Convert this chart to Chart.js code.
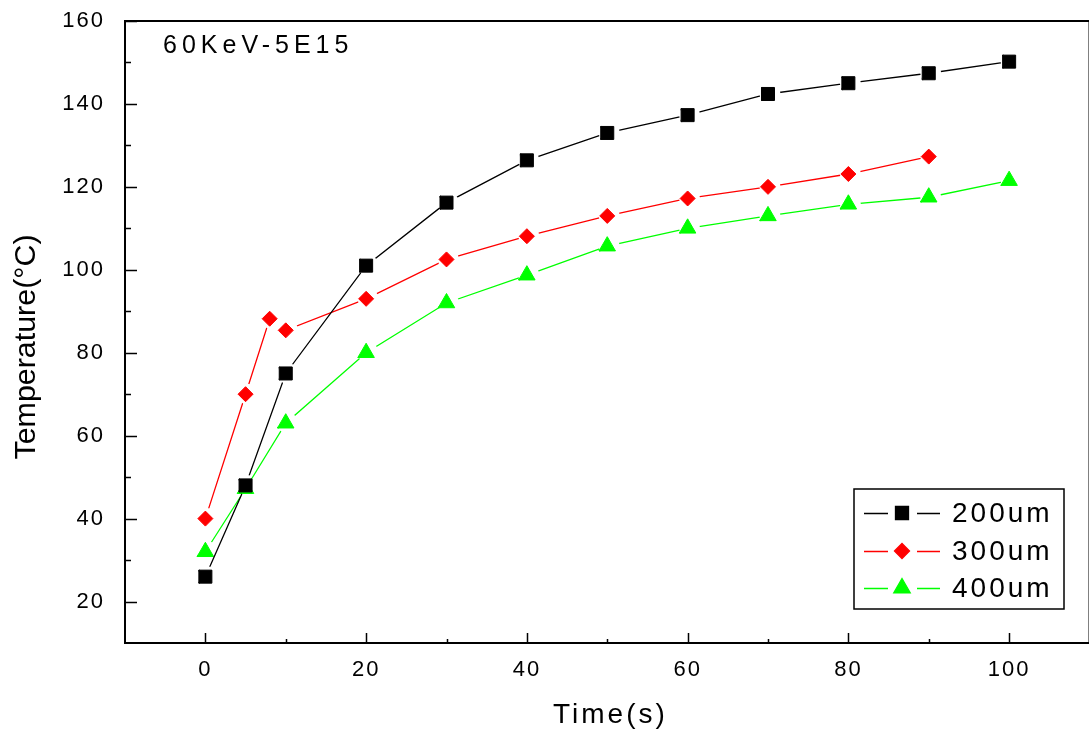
<!DOCTYPE html>
<html><head><meta charset="utf-8">
<script src="https://cdn.jsdelivr.net/npm/chart.js@4.4.1/dist/chart.umd.min.js"></script>
<style>html,body{margin:0;padding:0;background:#fff;overflow:hidden}#wrap{width:1100px;height:731px;position:relative}canvas{display:block}</style>
</head><body><div id="wrap"><canvas id="c" width="1100" height="731"></canvas></div>
<script>
const xTicks=[0,20,40,60,80,100];
const yTicks=[20,40,60,80,100,120,140,160];
const xMinor=[10,30,50,70,90];
const yMinor=[30,50,70,90,110,130,150];
const times200=[0,5,10,20,30,40,50,60,70,80,90,100];
const temp200=[26,48,75,101,116.2,126.4,133,137.3,142.4,145,147.4,150.2];
const times300=[0,5,8,10,20,30,40,50,60,70,80,90];
const temp300=[40,70,88.2,85.4,93,102.5,108.1,113,117.2,120,123.1,127.3];
const times400=[0,5,10,20,30,40,50,60,70,80,90,100];
const temp400=[32,47.2,63,80,92,98.7,105.7,110,113,115.8,117.5,121.5];
const seriesLabels=['200um','300um','400um'];
const seriesColors=['#000000','#ff0000','#00ff00'];
const chartTitle='60KeV-5E15';
const xTitle='Time(s)';
const yTitle='Temperature(°C)';

const FONT='"Liberation Sans", Arial, sans-serif';
const GAP=10.5, GAPSHIFT=2;
const styles=[{pointStyle:'rect',radius:9.2},{pointStyle:'rectRot',radius:7.5},{pointStyle:'triangle',radius:9.5}];

function pts(xs,ys){return xs.map((x,i)=>({x:x,y:ys[i]}));}

const custom={
  id:'custom',
  beforeDraw(chart){chart.ctx.letterSpacing='2px';},
  beforeDatasetDraw(chart,args){
    const ctx=chart.ctx;
    ctx.save();
    args.meta.data.forEach(p=>{
      const cx=p.x+GAPSHIFT;
      ctx.beginPath();
      ctx.rect(0,0,chart.width,chart.height);
      ctx.moveTo(cx+GAP,p.y);
      ctx.arc(cx,p.y,GAP,0,Math.PI*2);
      ctx.clip('evenodd');
    });
  },
  afterDatasetDraw(chart,args){
    const ctx=chart.ctx;
    ctx.restore();
    args.meta.data.forEach(p=>p.draw(ctx,chart.chartArea));
  },
  afterDraw(chart){
    const ctx=chart.ctx,a=chart.chartArea,xs=chart.scales.x,ys=chart.scales.y;
    ctx.save();
    ctx.letterSpacing='0px';
    ctx.strokeStyle='#000';
    ctx.lineWidth=2;
    ctx.strokeRect(a.left,a.top,a.right-a.left,a.bottom-a.top);
    ctx.lineWidth=1.5;
    ctx.beginPath();
    xTicks.forEach(v=>{const x=Math.round(xs.getPixelForValue(v))+0.5;ctx.moveTo(x,a.bottom);ctx.lineTo(x,a.bottom-10);});
    xMinor.forEach(v=>{const x=Math.round(xs.getPixelForValue(v))+0.5;ctx.moveTo(x,a.bottom);ctx.lineTo(x,a.bottom-4);});
    yTicks.forEach(v=>{const y=Math.round(ys.getPixelForValue(v))+0.5;ctx.moveTo(a.left,y);ctx.lineTo(a.left+12,y);});
    yMinor.forEach(v=>{const y=Math.round(ys.getPixelForValue(v))+0.5;ctx.moveTo(a.left,y);ctx.lineTo(a.left+6,y);});
    ctx.stroke();
    ctx.fillStyle='#000';
    ctx.textAlign='left';ctx.textBaseline='alphabetic';
    ctx.font='25px '+FONT;ctx.letterSpacing='5px';
    ctx.fillText(chartTitle,163,53);
    ctx.font='28px '+FONT;ctx.letterSpacing='3px';
    ctx.fillText(xTitle,553,723);
    ctx.save();
    ctx.letterSpacing='0px';
    ctx.font='30px '+FONT;
    const w=ctx.measureText(yTitle).width;
    ctx.translate(35,347);
    ctx.rotate(-Math.PI/2);
    ctx.scale(225/w,1);
    ctx.textAlign='center';
    ctx.fillText(yTitle,0,0);
    ctx.restore();
    const bx=854,by=489,bw=210,bh=120;
    ctx.lineWidth=1.5;ctx.strokeStyle='#000';
    ctx.strokeRect(bx,by,bw,bh);
    const rows=[513,551,588];
    seriesLabels.forEach((lab,i)=>{
      const y=rows[i];
      ctx.strokeStyle=seriesColors[i];ctx.fillStyle=seriesColors[i];
      ctx.lineWidth=1.3;
      ctx.beginPath();ctx.moveTo(864,y+0.5);ctx.lineTo(888,y+0.5);ctx.moveTo(917,y+0.5);ctx.lineTo(940,y+0.5);ctx.stroke();
      Chart.helpers.drawPoint(ctx,{pointStyle:styles[i].pointStyle,radius:styles[i].radius,rotation:0,borderWidth:1},902,y);
      ctx.fillStyle='#000';
      ctx.font='28px '+FONT;ctx.letterSpacing='3px';
      ctx.textBaseline='middle';
      ctx.fillText(lab,952,y+1);
    });
    ctx.restore();
  }
};

function ds(label,xs,ys,i){
  return {label:label,data:pts(xs,ys),borderColor:seriesColors[i],backgroundColor:seriesColors[i],
    borderWidth:1.3,tension:0,pointStyle:styles[i].pointStyle,pointRadius:styles[i].radius,
    pointBackgroundColor:seriesColors[i],pointBorderColor:seriesColors[i],pointBorderWidth:1,fill:false};
}

new Chart(document.getElementById('c'),{
  type:'line',
  data:{datasets:[ds(seriesLabels[0],times200,temp200,0),ds(seriesLabels[1],times300,temp300,1),ds(seriesLabels[2],times400,temp400,2)]},
  options:{
    responsive:false,animation:false,devicePixelRatio:1,
    layout:{padding:{top:21,right:7,left:0,bottom:0}},
    plugins:{legend:{display:false},tooltip:{enabled:false}},
    scales:{
      x:{type:'linear',min:-10,max:110,grid:{display:false,drawTicks:false},border:{display:false},
        ticks:{autoSkip:false,maxRotation:0,padding:14,color:'#000',font:{family:FONT,size:22},callback:v=>String(v)},
        afterBuildTicks:s=>{s.ticks=xTicks.map(v=>({value:v}));},
        afterFit:s=>{s.height=88;s.paddingLeft=0;s.paddingRight=0;}},
      y:{type:'linear',min:10,max:160,grid:{display:false,drawTicks:false},border:{display:false},
        ticks:{autoSkip:false,padding:20,color:'#000',font:{family:FONT,size:22},callback:v=>String(v)},
        afterBuildTicks:s=>{s.ticks=yTicks.map(v=>({value:v}));},
        afterFit:s=>{s.width=125;s.paddingTop=0;s.paddingBottom=0;}}
    }
  },
  plugins:[custom]
});
</script></body></html>
